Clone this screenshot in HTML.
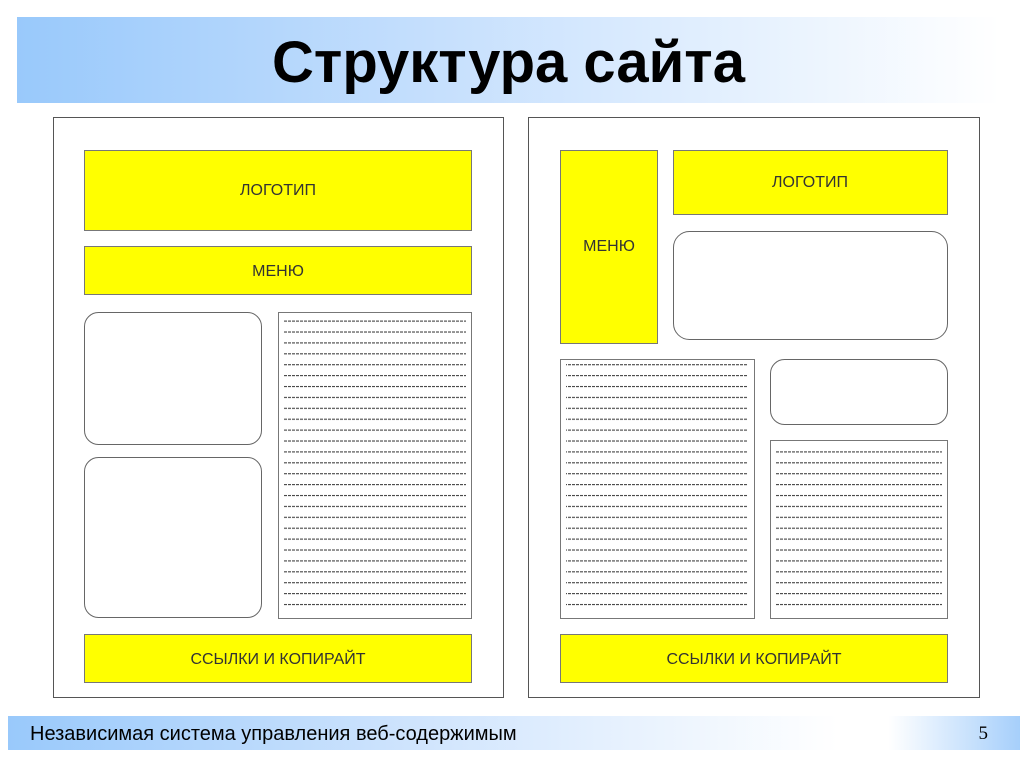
<!DOCTYPE html>
<html><head><meta charset="utf-8"><style>
body{margin:0;width:1024px;height:768px;background:#fff;overflow:hidden;position:relative;font-family:"Liberation Sans",sans-serif}
.title{position:absolute;left:17px;top:17px;width:983px;height:86px;background:linear-gradient(90deg,#99c9fb 0%,#c3defd 40%,#fff 100%)}
.title span{position:absolute;left:0;right:0;top:12px;text-align:center;font-weight:bold;font-size:58px;color:#000}
.foot{position:absolute;left:8px;top:716px;width:1012px;height:34px;background:linear-gradient(90deg,#99c9fb 0%,#cfe4fd 40%,#fff 82%,#fff 87%,#a6cffb 100%)}
.foot .t{position:absolute;left:22px;top:7px;font-size:20px;color:#000}
.foot .n{position:absolute;right:32px;top:7px;font-size:19px;font-family:"Liberation Serif",serif}
</style></head><body>
<div class="title"><span>Структура сайта</span></div>
<svg width="1024" height="768" style="position:absolute;left:0;top:0">
<defs>
<pattern id="ln" patternUnits="userSpaceOnUse" width="200" height="10.9" y="0">
<line x1="0" y1="5" x2="200" y2="5" stroke="#444" stroke-width="1.2" stroke-dasharray="3,1"/>
</pattern>
</defs>
<g font-family="Liberation Sans, sans-serif" font-size="16" fill="#333" text-anchor="middle">
<rect x="53.5" y="117.5" width="450" height="580" fill="#fff" stroke="#555"/>
<rect x="528.5" y="117.5" width="451" height="580" fill="#fff" stroke="#555"/>
<rect x="84.5" y="150.5" width="387" height="80" fill="#ffff00" stroke="#777"/>
<text x="278" y="195">ЛОГОТИП</text>
<rect x="84.5" y="246.5" width="387" height="48" fill="#ffff00" stroke="#777"/>
<text x="278" y="276">МЕНЮ</text>
<rect x="84.5" y="312.5" width="177" height="132" rx="14" fill="#fff" stroke="#666"/>
<rect x="84.5" y="457.5" width="177" height="160" rx="14" fill="#fff" stroke="#666"/>
<rect x="278.5" y="312.5" width="193" height="306" fill="#fff" stroke="#777"/>
<rect x="284" y="317" width="182" height="295" fill="url(#ln)"/>
<rect x="84.5" y="634.5" width="387" height="48" fill="#ffff00" stroke="#777"/>
<text x="278" y="664">ССЫЛКИ И КОПИРАЙТ</text>
<rect x="560.5" y="150.5" width="97" height="193" fill="#ffff00" stroke="#777"/>
<text x="609" y="251">МЕНЮ</text>
<rect x="673.5" y="150.5" width="274" height="64" fill="#ffff00" stroke="#777"/>
<text x="810" y="187">ЛОГОТИП</text>
<rect x="673.5" y="231.5" width="274" height="108" rx="16" fill="#fff" stroke="#666"/>
<rect x="560.5" y="359.5" width="194" height="259" fill="#fff" stroke="#777"/>
<rect x="566" y="363" width="182" height="250" fill="url(#ln)"/>
<rect x="770.5" y="359.5" width="177" height="65" rx="14" fill="#fff" stroke="#666"/>
<rect x="770.5" y="440.5" width="177" height="178" fill="#fff" stroke="#777"/>
<rect x="775" y="446" width="167" height="166" fill="url(#ln)"/>
<rect x="560.5" y="634.5" width="387" height="48" fill="#ffff00" stroke="#777"/>
<text x="754" y="664">ССЫЛКИ И КОПИРАЙТ</text>
</g>
</svg>
<div class="foot"><span class="t">Независимая система управления веб-содержимым</span><span class="n">5</span></div>
</body></html>
